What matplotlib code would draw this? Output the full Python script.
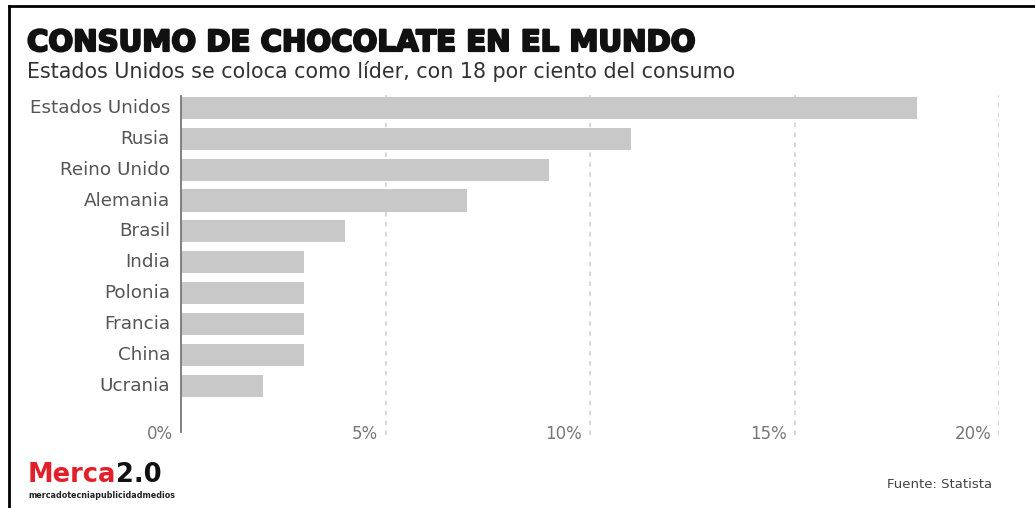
import matplotlib
matplotlib.use("Agg")
import matplotlib.pyplot as plt
from matplotlib.lines import Line2D
import matplotlib.transforms as mtransforms
import matplotlib.patheffects as pe

# data
paises = ['Estados Unidos', 'Rusia', 'Reino Unido', 'Alemania', 'Brasil',
          'India', 'Polonia', 'Francia', 'China', 'Ucrania']
consumo = [18, 11, 9, 7, 4, 3, 3, 3, 3, 2]
ticks = [0, 5, 10, 15, 20]
tick_labels = ['0%', '5%', '10%', '15%', '20%']

W, H = 1035, 508
fig = plt.figure(figsize=(W / 100, H / 100), dpi=100)
fig.patch.set_facecolor('white')

# axes placed in pixel coords
left, right, top, bottom = 181, 999, 95, 435
ax = fig.add_axes([left / W, 1 - bottom / H, (right - left) / W, (bottom - top) / H])
ax.set_facecolor('none')

ypos = list(range(len(paises)))
ax.barh(ypos, consumo, height=0.72, color='#c8c8c8', zorder=2)
ax.set_xlim(0, 20)
ax.set_ylim(10.6, -0.42)

for sp in ax.spines.values():
    sp.set_visible(False)
ax.set_xticks([])
ax.set_yticks([])

# grid lines
for t in ticks[1:]:
    ax.axvline(t, color='#d4d4d4', lw=1.3, ls=(0, (2.5, 3)), zorder=1)
ax.plot([0, 0], [10.5, -0.4], color='#777777', lw=1.3, zorder=3, clip_on=False)

# category labels
for y, p in zip(ypos, paises):
    ax.text(-0.27, y, p, ha='right', va='center', fontsize=13.2,
            color='#555555', family='DejaVu Sans')

# x tick labels
trans = mtransforms.offset_copy(ax.transData, fig=fig, x=-8, y=0, units='dots')
for t, lab in zip(ticks, tick_labels):
    ax.text(t, 10.56, lab, ha='right', va='center', fontsize=12,
            color='#777777', transform=trans)

# title & subtitle
fig.text(27 / W, 1 - 43 / H, 'CONSUMO DE CHOCOLATE EN EL MUNDO', ha='left', va='center',
         fontsize=21, fontweight='bold', family='DejaVu Sans', color='#111111',
         path_effects=[pe.withStroke(linewidth=1.6, foreground='#111111')])
fig.text(27 / W, 1 - 71 / H, 'Estados Unidos se coloca como líder, con 18 por ciento del consumo',
         ha='left', va='center', fontsize=14.9, color='#333333', family='DejaVu Sans')

# source
fig.text(992 / W, 1 - 485 / H, 'Fuente: Statista', ha='right', va='center',
         fontsize=9.5, color='#444444')

# logo
t1 = fig.text(28 / W, 1 - 482 / H, 'Merca', ha='left', va='baseline', fontsize=18.5,
              fontweight='bold', family='DejaVu Sans', color='#e3202a')
fig.canvas.draw()
bb = t1.get_window_extent()
fig.text(bb.x1 / W, 1 - 482 / H, '2.0', ha='left', va='baseline', fontsize=18.5,
         fontweight='bold', family='DejaVu Sans', color='#111111')
fig.text(28 / W, 1 - 495 / H, 'mercadotecniapublicidadmedios', ha='left', va='center',
         fontsize=5.8, fontweight='bold', color='#222222')

# frame lines
fig.add_artist(Line2D([9 / W, 9 / W], [0, 1 - 6 / H], color='black', lw=2))
fig.add_artist(Line2D([9 / W, 1], [1 - 6 / H, 1 - 6 / H], color='black', lw=2))

fig.savefig('out.png', dpi=100)
